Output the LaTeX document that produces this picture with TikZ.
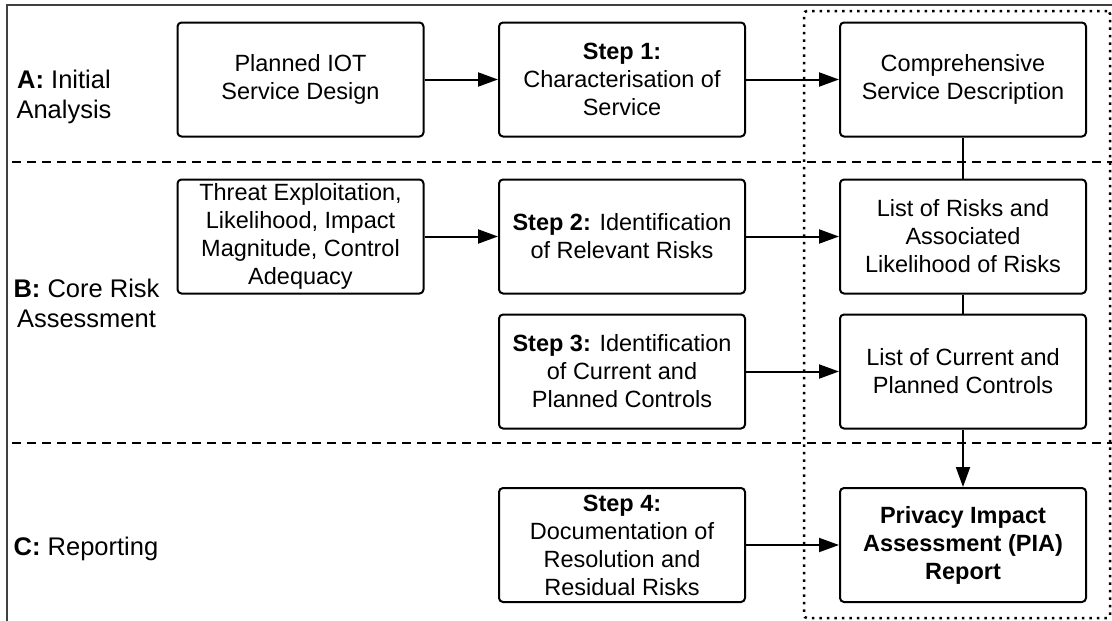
\documentclass[tikz,border=0pt]{standalone}
\usepackage{fontspec}
\setmainfont{Liberation Sans}
\usetikzlibrary{arrows.meta}
\newcommand\bxfont{\fontsize{23.5pt}{28pt}\selectfont}
\newcommand\lbfont{\fontsize{25.5pt}{30pt}\selectfont}
\begin{document}
\begin{tikzpicture}[x=1pt,y=-1pt,
  box/.style={draw, line width=2pt, rounded corners=4pt, minimum width=246pt,
    minimum height=114pt, inner sep=0pt, align=center, font=\bxfont},
  lbl/.style={align=center, inner sep=0pt, font=\lbfont},
  flow/.style={line width=2pt, -{Triangle[length=20pt,width=14pt]}},
  link/.style={line width=2pt},
  sep/.style={line width=2pt, dash pattern=on 9pt off 6pt},
  grp/.style={draw, line width=2.5pt, dash pattern=on 2.5pt off 5pt, rounded corners=3pt,
    minimum width=306pt, minimum height=607pt, inner sep=0pt},
  frame/.style={line width=1.3pt, draw=black!75}]
\useasboundingbox (0,0) rectangle (1112,621);

% outer frame (top and left edges)
\draw[frame] (7,621) -- (7,5) -- (1112,5);

% phase separators
\draw[sep] (12,162) -- (1112,162);
\draw[sep] (12,443) -- (1112,443);

% group of produced artefacts
\node[grp] (outputs) at (957,314.5) {};

% phase labels
\node[lbl] (phaseA) at (64,97) {\textbf{A:} Initial\\Analysis};
\node[lbl] (phaseB) at (86.5,303.5) {\textbf{B:} Core Risk\\Assessment};
\node[lbl] (phaseC) at (86,548.5) {\textbf{C:} Reporting};

% column 1
\node[box] (plan) at (300.5,79.5) {Planned IOT\\Service Design};
\node[box] (threat) at (300.5,236.5) {Threat Exploitation,\\Likelihood, Impact\\Magnitude, Control\\Adequacy};

% column 2: the steps
\node[box] (step1) at (622,79.5) {\textbf{Step 1:}\\Characterisation of\\Service};
\node[box] (step2) at (622,236.5) {\textbf{Step 2:} Identification\\of Relevant Risks};
\node[box] (step3) at (622,371.5) {\textbf{Step 3:} Identification\\of Current and\\Planned Controls};
\node[box] (step4) at (622,545) {\textbf{Step 4:}\\Documentation of\\Resolution and\\Residual Risks};

% column 3: outputs
\node[box] (desc) at (963,79.5) {Comprehensive\\Service Description};
\node[box] (risks) at (963,236.5) {List of Risks and\\Associated\\Likelihood of Risks};
\node[box] (ctrls) at (963,371.5) {List of Current and\\Planned Controls};
\node[box, font=\bxfont\bfseries] (pia) at (963,545) {Privacy Impact\\Assessment (PIA)\\Report};

% connectors
\draw[flow] (plan) -- (step1);
\draw[flow] (step1) -- (desc);
\draw[flow] (threat) -- (step2);
\draw[flow] (step2) -- (risks);
\draw[flow] (step3) -- (ctrls);
\draw[flow] (step4) -- (pia);
\draw[link] (desc) -- (risks);
\draw[link] (risks) -- (ctrls);
\draw[flow] (ctrls) -- (pia);
\end{tikzpicture}
\end{document}
